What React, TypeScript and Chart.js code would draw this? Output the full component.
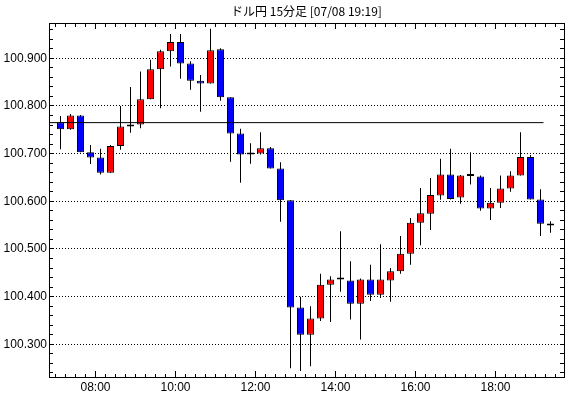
import React, { useEffect, useRef } from 'react';
import { Chart, registerables } from 'chart.js';

Chart.register(...registerables);

// ---------- data ----------
const TITLE = 'ドル円 15分足 [07/08 19:19]';

const TIMES = [
  '07:00', '07:15', '07:30', '07:45', '08:00', '08:15', '08:30', '08:45',
  '09:00', '09:15', '09:30', '09:45', '10:00', '10:15', '10:30', '10:45',
  '11:00', '11:15', '11:30', '11:45', '12:00', '12:15', '12:30', '12:45',
  '13:00', '13:15', '13:30', '13:45', '14:00', '14:15', '14:30', '14:45',
  '15:00', '15:15', '15:30', '15:45', '16:00', '16:15', '16:30', '16:45',
  '17:00', '17:15', '17:30', '17:45', '18:00', '18:15', '18:30', '18:45',
  '19:00', '19:15',
];

const OPEN = [
  100.766, 100.751, 100.780, 100.703, 100.692, 100.660, 100.716, 100.757,
  100.761, 100.814, 100.877, 100.915, 100.934, 100.889, 100.853, 100.847,
  100.919, 100.818, 100.742, 100.699, 100.700, 100.711, 100.669, 100.602,
  100.377, 100.320, 100.354, 100.425, 100.436, 100.434, 100.385, 100.436,
  100.404, 100.434, 100.453, 100.490, 100.555, 100.574, 100.612, 100.656,
  100.608, 100.654, 100.652, 100.585, 100.597, 100.627, 100.654, 100.693,
  100.604, 100.553,
];

const HIGH = [
  100.779, 100.783, 100.781, 100.718, 100.710, 100.718, 100.800, 100.840,
  100.872, 100.897, 100.918, 100.951, 100.951, 100.894, 100.865, 100.962,
  100.921, 100.818, 100.752, 100.722, 100.745, 100.714, 100.682, 100.602,
  100.400, 100.380, 100.448, 100.443, 100.537, 100.474, 100.438, 100.467,
  100.510, 100.460, 100.527, 100.565, 100.628, 100.649, 100.689, 100.710,
  100.655, 100.703, 100.654, 100.628, 100.654, 100.663, 100.745, 100.697,
  100.625, 100.558,
];

const LOW = [
  100.709, 100.750, 100.703, 100.678, 100.656, 100.660, 100.708, 100.744,
  100.753, 100.814, 100.795, 100.883, 100.857, 100.834, 100.788, 100.847,
  100.811, 100.683, 100.639, 100.679, 100.698, 100.669, 100.557, 100.250,
  100.244, 100.254, 100.349, 100.347, 100.410, 100.352, 100.310, 100.391,
  100.397, 100.389, 100.448, 100.467, 100.508, 100.540, 100.603, 100.604,
  100.595, 100.635, 100.580, 100.561, 100.586, 100.620, 100.654, 100.604,
  100.527, 100.534,
];

const CLOSE = [
  100.751, 100.780, 100.703, 100.692, 100.660, 100.716, 100.757, 100.761,
  100.814, 100.877, 100.915, 100.934, 100.889, 100.853, 100.847, 100.917,
  100.818, 100.742, 100.698, 100.698, 100.711, 100.669, 100.602, 100.377,
  100.320, 100.354, 100.425, 100.436, 100.436, 100.385, 100.436, 100.404,
  100.436, 100.453, 100.490, 100.555, 100.575, 100.613, 100.656, 100.605,
  100.654, 100.653, 100.585, 100.597, 100.627, 100.654, 100.693, 100.604,
  100.553, 100.549,
];

const REF_LEVEL = 100.765;
const REF_LINE_END = '19:12';

const X_LABELS = ['08:00', '10:00', '12:00', '14:00', '16:00', '18:00'];
const Y_LABELS = [100.3, 100.4, 100.5, 100.6, 100.7, 100.8, 100.9];

const BAR_MINUTES = 15;
const X_MINOR_STEP = 15;
const Y_MINOR_STEP = 0.02;
const X_RANGE = [410.25, 1182.75];
const Y_RANGE = [100.2314, 100.974];

const UP_COLOR = '#ff0000';
const DOWN_COLOR = '#0000ff';
const TICK_FONT = "'Liberation Sans Narrow', 'Liberation Sans', Arial, sans-serif";
const TITLE_FONT = "'Noto Sans CJK JP', 'Noto Sans', sans-serif";

// ---------- helpers ----------
const toMin = (s: string) => {
  const [h, m] = s.split(':').map(Number);
  return h * 60 + m;
};
const fmtMin = (v: number) => {
  const h = Math.floor(v / 60);
  const m = Math.round(v - h * 60);
  return String(h).padStart(2, '0') + ':' + String(m).padStart(2, '0');
};

export default function App() {
  const ref = useRef<HTMLCanvasElement | null>(null);

  useEffect(() => {
    const canvas = ref.current;
    if (!canvas) return;

    const xMajor = X_LABELS.map(toMin);
    const isMajorX = (v: number) => xMajor.some((m) => Math.abs(m - v) < 1e-6);
    const isMajorY = (v: number) => Y_LABELS.some((m) => Math.abs(m - v) < 1e-6);

    const xTickValues: number[] = [];
    for (let t = Math.ceil(X_RANGE[0] / X_MINOR_STEP) * X_MINOR_STEP; t <= X_RANGE[1]; t += X_MINOR_STEP) {
      xTickValues.push(t);
    }
    const yTickValues: number[] = [];
    for (let i = Math.ceil(Y_RANGE[0] / Y_MINOR_STEP - 1e-9); i * Y_MINOR_STEP <= Y_RANGE[1] + 1e-9; i++) {
      yTickValues.push(+(i * Y_MINOR_STEP).toFixed(3));
    }
    const setXTicks = (s: any) => {
      s.ticks = xTickValues.map((value) => ({ value }));
    };
    const setYTicks = (s: any) => {
      s.ticks = yTickValues.map((value) => ({ value }));
    };

    const centers = TIMES.map((t) => toMin(t) + BAR_MINUTES / 2);
    const bodies = centers.map((x, i) => ({ x, y: [OPEN[i], CLOSE[i]] }));
    const wicks = centers.map((x, i) => ({ x, y: [LOW[i], HIGH[i]] }));
    const colors = OPEN.map((o, i) => (CLOSE[i] >= o ? UP_COLOR : DOWN_COLOR));

    const chart = new Chart(canvas, {
      type: 'bar',
      data: {
        datasets: [
          {
            type: 'line',
            data: [
              { x: X_RANGE[0], y: REF_LEVEL },
              { x: toMin(REF_LINE_END), y: REF_LEVEL },
            ],
            borderColor: '#000',
            borderWidth: 1,
            pointRadius: 0,
            order: 0,
            xAxisID: 'x',
            yAxisID: 'y',
          } as any,
          {
            type: 'bar',
            data: bodies as any,
            backgroundColor: colors,
            borderColor: '#000',
            borderWidth: 1,
            borderSkipped: false,
            barThickness: 7,
            minBarLength: 2,
            inflateAmount: 0,
            grouped: false,
            order: 1,
            xAxisID: 'x',
            yAxisID: 'y',
          } as any,
          {
            type: 'bar',
            data: wicks as any,
            backgroundColor: '#000',
            borderWidth: 0,
            barThickness: 1,
            inflateAmount: 0,
            grouped: false,
            order: 2,
            xAxisID: 'x',
            yAxisID: 'y',
          } as any,
        ],
      },
      options: {
        responsive: false,
        maintainAspectRatio: false,
        animation: false,
        devicePixelRatio: 1,
        layout: { padding: 0 },
        events: [],
        plugins: {
          legend: { display: false },
          tooltip: { enabled: false },
          title: {
            display: true,
            text: TITLE,
            fullSize: false,
            color: '#000',
            font: { family: TITLE_FONT, size: 12, weight: 'normal', lineHeight: 1.2 },
            padding: { top: 4.3, bottom: 4.3 },
          } as any,
        },
        scales: {
          x: {
            type: 'linear',
            position: 'bottom',
            display: true,
            min: X_RANGE[0],
            max: X_RANGE[1],
            offset: false,
            grid: {
              offset: false,
              drawOnChartArea: false,
              tickLength: -6,
              tickColor: '#000',
              tickWidth: 1,
              tickBorderDash: (c: any) => (isMajorX(c.tick?.value) ? [] : [4, 50]),
            },
            border: { display: true, color: '#000', width: 1 },
            afterBuildTicks: setXTicks,
            afterFit: (s: any) => {
              s.height = 21;
            },
            ticks: {
              autoSkip: false,
              maxRotation: 0,
              minRotation: 0,
              padding: 11,
              color: '#000',
              font: { family: TICK_FONT, size: 12, lineHeight: 1 },
              callback: (v: any) => (isMajorX(Number(v)) ? fmtMin(Number(v)) : ''),
            },
          },
          xTop: {
            type: 'linear',
            position: 'top',
            display: true,
            min: X_RANGE[0],
            max: X_RANGE[1],
            offset: false,
            grid: {
              offset: false,
              drawOnChartArea: false,
              tickLength: -6,
              tickColor: '#000',
              tickWidth: 1,
              tickBorderDash: (c: any) => (isMajorX(c.tick?.value) ? [] : [0, 2, 10, 50]),
            },
            border: { display: true, color: '#000', width: 1 },
            afterBuildTicks: setXTicks,
            afterFit: (s: any) => {
              s.height = 0;
            },
            ticks: { display: false, autoSkip: false },
          },
          y: {
            type: 'linear',
            position: 'left',
            display: true,
            min: Y_RANGE[0],
            max: Y_RANGE[1],
            beginAtZero: false,
            grid: {
              drawOnChartArea: true,
              color: (c: any) => (isMajorY(c.tick?.value) ? '#000' : 'rgba(0,0,0,0)'),
              lineWidth: 1,
              tickLength: -4,
              tickColor: '#000',
              tickWidth: 1,
            },
            border: { display: true, color: '#000', width: 1, dash: [1, 2] },
            afterBuildTicks: setYTicks,
            afterFit: (s: any) => {
              s.width = 49;
            },
            ticks: {
              autoSkip: false,
              padding: 6,
              color: '#000',
              font: { family: TICK_FONT, size: 12 },
              callback: (v: any) => (isMajorY(Number(v)) ? Number(v).toFixed(3) : ''),
            },
          },
          yRight: {
            type: 'linear',
            position: 'right',
            display: true,
            min: Y_RANGE[0],
            max: Y_RANGE[1],
            beginAtZero: false,
            grid: {
              drawOnChartArea: false,
              tickLength: -4,
              tickColor: '#000',
              tickWidth: 1,
            },
            border: { display: true, color: '#000', width: 1 },
            afterBuildTicks: setYTicks,
            afterFit: (s: any) => {
              s.width = 6;
            },
            ticks: { display: false, autoSkip: false },
          },
        },
      } as any,
    });

    return () => {
      chart.destroy();
    };
  }, []);

  return (
    <div style={{ position: 'absolute', left: 0, top: 0, width: 570, height: 398, background: '#fff' }}>
      <canvas ref={ref} width={570} height={398} style={{ display: 'block', width: 570, height: 398 }} />
    </div>
  );
}
